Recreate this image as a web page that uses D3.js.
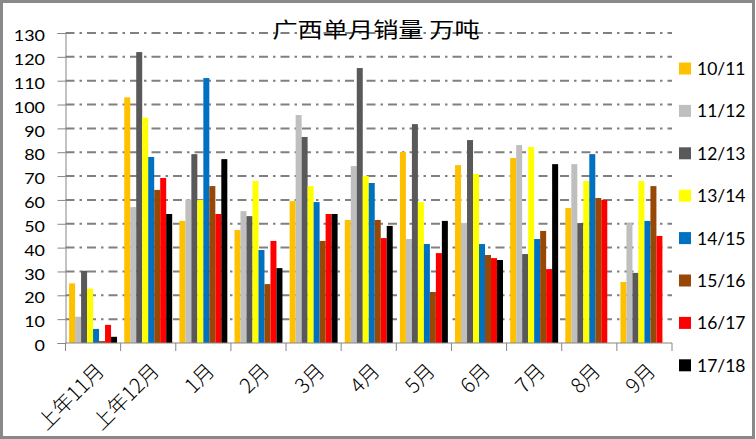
<!DOCTYPE html>
<html><head><meta charset="utf-8">
<script src="https://cdn.jsdelivr.net/npm/d3@7"></script>
<style>
html,body{margin:0;padding:0;background:#fff;}
svg{display:block;}
</style></head>
<body>
<svg id="chart" width="756" height="439"></svg>
<script>
const title = "广西单月销量 万吨";
const categories = ["上年11月","上年12月","1月","2月","3月","4月","5月","6月","7月","8月","9月"];
const seriesNames = ["10/11","11/12","12/13","13/14","14/15","15/16","16/17","17/18"];
const seriesColors = ["#FFC000","#BFBFBF","#595959","#FFFF00","#0070C0","#974706","#FF0000","#000000"];
const s1011 = [25, 103, 51.2, 47.4, 59.5, 51.6, 80.1, 74.6, 77.6, 56.6, 25.6];
const s1112 = [11, 57, 60.2, 55.3, 95.6, 74.2, 43.6, 50.3, 83, 75, 50.3];
const s1213 = [30.3, 122, 79.2, 53.2, 86.4, 115.3, 91.8, 85.1, 37.3, 50.3, 29.4];
const s1314 = [22.8, 94.5, 60, 67.9, 65.8, 70, 59.1, 70.9, 82.2, 67.9, 67.9];
const s1415 = [5.9, 78, 111.1, 39, 59.1, 67.1, 41.5, 41.5, 43.6, 79.2, 51.2];
const s1516 = [0.8, 64.2, 65.8, 24.7, 42.8, 51.6, 21.4, 36.9, 47, 60.8, 65.8];
const s1617 = [7.6, 69.2, 54.1, 42.8, 54.1, 44, 37.7, 35.6, 31, 60, 44.9];
const s1718 = [2.6, 54.1, 77.1, 31.4, 54.1, 49.1, 51.2, 34.8, 75, null, null];
const yTicks = [0,10,20,30,40,50,60,70,80,90,100,110,120,130];

const seriesValues = [s1011, s1112, s1213, s1314, s1415, s1516, s1617, s1718];

const svg = d3.select("#chart");
const W = 756, H = 439;
const plot = {left: 65.5, right: 672, top: 33, bottom: 343};

svg.append("rect").attr("x",0).attr("y",0).attr("width",W).attr("height",H).attr("fill","#fff");

const y = d3.scaleLinear().domain([0,130]).range([plot.bottom, plot.top]);
const x0 = d3.scaleBand().domain(categories).range([plot.left, plot.right]).paddingInner(0).paddingOuter(0);
const x1 = d3.scaleBand().domain(seriesNames).range([0, x0.bandwidth()]).paddingInner(0).paddingOuter(0.6);

// gridlines
svg.append("g").selectAll("line").data(yTicks.filter(d=>d>0)).join("line")
  .attr("x1", plot.left).attr("x2", plot.right)
  .attr("y1", d=>y(d)).attr("y2", d=>y(d))
  .attr("stroke","#808080").attr("stroke-width",2)
  .attr("stroke-dasharray","9,5,2.5,5");

// title
svg.append("text").attr("x", 0).attr("y", 0)
  .attr("transform","translate(376,37) scale(1.2,1)")
  .attr("text-anchor","middle")
  .attr("font-family","'Noto Sans CJK SC'").attr("font-size",21)
  .attr("fill","#000").text(title);

// bars
const groups = svg.append("g").selectAll("g").data(categories).join("g")
  .attr("transform", d=>`translate(${x0(d)},0)`);
groups.selectAll("rect").data((c,ci)=>seriesNames.map((s,si)=>({s, si, v: seriesValues[si][ci]})).filter(d=>d.v!=null))
  .join("rect")
  .attr("x", d=>x1(d.s)).attr("width", x1.bandwidth())
  .attr("y", d=>y(d.v)).attr("height", d=>y(0)-y(d.v))
  .attr("fill", d=>seriesColors[d.si]);

// y axis
const yAxis = d3.axisLeft(y).tickValues(yTicks).tickSize(8).tickPadding(0).tickFormat(d3.format("d"));
const ya = svg.append("g").attr("transform",`translate(${plot.left},0)`).call(yAxis);
ya.select(".domain").attr("stroke","#868686").attr("stroke-width",1);
ya.selectAll(".tick line").attr("stroke","#868686");
ya.selectAll(".tick text")
  .attr("x",0).attr("dy",null).attr("dominant-baseline","central")
  .attr("transform","translate(-20.5,1.5) scale(1.12,1)")
  .attr("font-family","Lato").attr("font-size",16).attr("fill","#000");

// x axis
const boundaries = categories.map(c=>x0(c)).concat([plot.right]);
svg.append("line").attr("x1",plot.left).attr("x2",plot.right).attr("y1",plot.bottom).attr("y2",plot.bottom)
  .attr("stroke","#868686").attr("stroke-width",1);
svg.append("g").selectAll("line").data(boundaries).join("line")
  .attr("x1",d=>d).attr("x2",d=>d).attr("y1",plot.bottom).attr("y2",plot.bottom+8)
  .attr("stroke","#868686").attr("stroke-width",1);
svg.append("g").selectAll("text").data(categories).join("text")
  .attr("transform", d=>`translate(${x0(d)+x0.bandwidth()/2+6},${plot.bottom+23}) rotate(-45)`)
  .attr("text-anchor","end").attr("dominant-baseline","central")
  .attr("font-family","'Noto Sans CJK SC'").attr("font-size",20.5).attr("font-weight",300).attr("fill","#000")
  .text(d=>d);

// legend
const leg = svg.append("g").selectAll("g").data(seriesNames).join("g")
  .attr("transform",(d,i)=>`translate(679,${62.5+42.4*i})`);
leg.append("rect").attr("width",12).attr("height",12).attr("fill",(d,i)=>seriesColors[i]);
leg.append("text").attr("x",18).attr("y",12.5)
  .attr("font-family","Lato").attr("font-size",17.5).attr("fill","#000").text(d=>d);

// outer border
svg.append("rect").attr("x",1.5).attr("y",1.5).attr("width",W-4).attr("height",H-3)
  .attr("fill","none").attr("stroke","#898989").attr("stroke-width",3);
</script>
</body></html>
